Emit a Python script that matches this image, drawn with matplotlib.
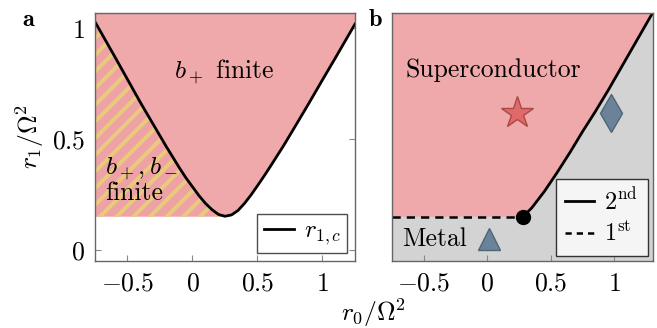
import numpy as np
import matplotlib
matplotlib.use('Agg')
import matplotlib.pyplot as plt
from matplotlib.lines import Line2D

plt.rcParams['font.family'] = 'serif'
plt.rcParams['font.serif'] = ['cmr10']
plt.rcParams['mathtext.fontset'] = 'cm'
plt.rcParams['axes.formatter.use_mathtext'] = True
plt.rcParams['hatch.linewidth'] = 2.9

# panel a: critical r1 curve
crit_r0 = [-0.75, -0.6, -0.5, -0.4, -0.3, -0.2, -0.1, -0.05, 0.0, 0.05, 0.1, 0.15,
           0.2, 0.25, 0.3, 0.35, 0.4, 0.45, 0.5, 0.55, 0.6, 0.7, 0.8, 0.9, 1.0, 1.1, 1.25]
crit_r1 = [1.03, 0.875, 0.77, 0.665, 0.565, 0.465, 0.37, 0.325, 0.285, 0.245, 0.21, 0.182,
           0.16, 0.152, 0.158, 0.178, 0.21, 0.248, 0.29, 0.333, 0.378, 0.47, 0.568, 0.667,
           0.768, 0.868, 1.02]
r1_floor = 0.15

# panel b: phase boundary
first_r0 = [-0.75, 0.28]
first_r1 = [0.15, 0.15]
second_r0 = [0.28, 0.35, 0.45, 0.55, 0.65, 0.75, 0.85, 0.95, 1.05, 1.15, 1.3]
second_r1 = [0.15, 0.19, 0.265, 0.35, 0.44, 0.535, 0.625, 0.72, 0.82, 0.92, 1.07]

star_pt = (0.23, 0.62)
diamond_pt = (0.97, 0.62)
triangle_pt = (0.01, 0.05)

pink = '#EFA9AB'
hatch_pink = '#EEA2A6'
yellow = '#E9C97C'
gray = '#D3D3D3'
marker_blue = '#6B8398'
fs = 18.5

xlim_a = (-0.75, 1.25)
xlim_b = (-0.75, 1.3)
ylim = (-0.05, 1.07)

fig = plt.figure(figsize=(6.57, 3.28), dpi=100)
ax_a = fig.add_axes([0.1446, 0.2043, 0.3957, 0.7561])
ax_b = fig.add_axes([0.5966, 0.2043, 0.3966, 0.7561])


def style_ax(ax):
    ax.set_axisbelow(True)
    ax.tick_params(direction='in', length=4, width=0.8, color='#888888',
                   top=True, right=True, labelsize=fs, pad=8)
    for s in ax.spines.values():
        s.set_color('#666666')
        s.set_linewidth(1.0)
    ax.set_ylim(ylim)
    ax.set_xticks([-0.5, 0, 0.5, 1], labels=[r'$-0.5$', r'$0$', r'$0.5$', r'$1$'])


# ---- panel a ----
style_ax(ax_a)
ax_a.set_xlim(xlim_a)
ax_a.set_yticks([0, 0.5, 1], labels=[r'$0$', r'$0.5$', r'$1$'])
ax_a.tick_params(axis='y', pad=7)
cx = np.array(crit_r0)
cy = np.array(crit_r1)
ax_a.fill_between(cx, cy, ylim[1], facecolor=pink, linewidth=0)
left = cx <= 0.25
hatched = ax_a.fill_between(cx[left], r1_floor, cy[left], facecolor=hatch_pink,
                            edgecolor=yellow, hatch='//', linewidth=0)
if hasattr(hatched, 'set_hatch_linewidth'):
    hatched.set_hatch_linewidth(2.9)
ax_a.plot(cx, cy, color='k', lw=2.0, label=r'$r_{1,c}$', solid_joinstyle='round')
ax_a.text(0.246, 0.81, r'$b_+$ finite', fontsize=fs, ha='center', va='center')
ax_a.text(-0.67, 0.37, r'$b_+, b_-$', fontsize=fs, ha='left', va='center')
ax_a.text(-0.67, 0.255, 'finite', fontsize=fs, ha='left', va='center')
ax_a.set_ylabel(r'$r_1/\Omega^2$', fontsize=fs, labelpad=4)
leg = ax_a.legend(loc='lower right', fontsize=fs - 0.5, fancybox=False, edgecolor='#222222',
                  handlelength=1.2, handletextpad=0.4, borderaxespad=0.3, borderpad=0.25)
leg.get_frame().set_linewidth(1.0)

# ---- panel b ----
style_ax(ax_b)
ax_b.set_xlim(xlim_b)
ax_b.set_yticks([0, 0.5, 1], labels=['', '', ''])
ax_b.tick_params(left=False, right=False, top=False)
ax_b.set_facecolor(gray)
bx = np.array(first_r0[:-1] + second_r0)
by = np.array(first_r1[:-1] + second_r1)
ax_b.fill_between(bx, by, ylim[1], facecolor=pink, linewidth=0)
ax_b.plot(first_r0, first_r1, color='k', lw=1.8, ls=(0, (3.3, 2.4)))
ax_b.plot(second_r0, second_r1, color='k', lw=2.0)
ax_b.plot(*star_pt, marker='*', ms=24, mfc='#E06A6A', mec='#A94848', mew=1.0)
ax_b.plot(*diamond_pt, marker='d', ms=19, mfc=marker_blue, mec='#4E6578', mew=1.0)
ax_b.plot(*triangle_pt, marker='^', ms=16, mfc=marker_blue, mec='#4E6578', mew=1.0)
ax_b.plot(first_r0[-1], first_r1[-1], marker='o', ms=10, color='k')
ax_b.text(0.045, 0.81, 'Superconductor', fontsize=fs, ha='center', va='center')
ax_b.text(-0.67, 0.05, 'Metal', fontsize=fs, ha='left', va='center')
handles = [Line2D([], [], color='k', lw=2.0),
           Line2D([], [], color='k', lw=1.8, ls=(0, (2.5, 2.0)))]
leg = ax_b.legend(handles, [r'$2^{\mathrm{nd}}$', r'$1^{\mathrm{st}}$'], loc='lower right',
                  fontsize=fs - 1, fancybox=False, edgecolor='#333333', facecolor='#F5F5F5',
                  framealpha=1, handlelength=1.2, handletextpad=0.4, borderaxespad=0.2,
                  labelspacing=0.3, borderpad=0.4)
leg.get_frame().set_linewidth(1.0)

fig.text(0.5685, 0.045, r'$r_0/\Omega^2$', fontsize=fs, ha='center', va='center')
fig.text(0.044, 0.94, r'$\mathbf{a}$', fontsize=fs - 1, ha='center', va='center')
fig.text(0.572, 0.94, r'$\mathbf{b}$', fontsize=fs - 1, ha='center', va='center')

fig.savefig('out.png', dpi=100)
